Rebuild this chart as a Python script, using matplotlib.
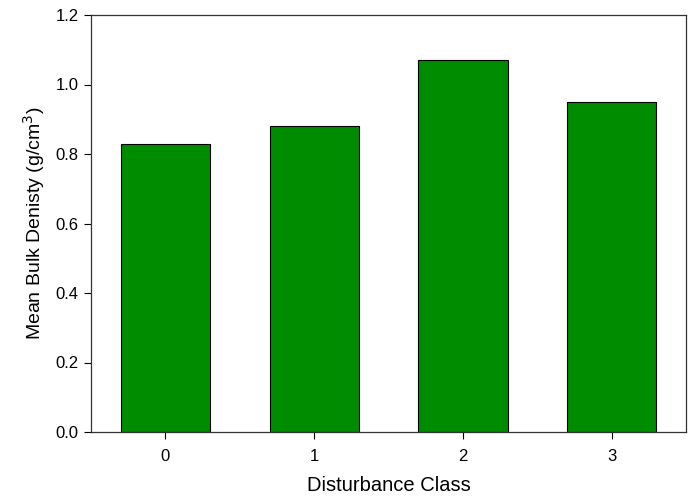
import matplotlib
matplotlib.use("Agg")
import matplotlib.pyplot as plt

# Data
classes = ["0", "1", "2", "3"]
bulk_density = [0.83, 0.88, 1.07, 0.95]

plt.rcParams['font.family'] = ['Liberation Sans', 'DejaVu Sans']

fig = plt.figure(figsize=(6.9, 5.01), dpi=100)
ax = fig.add_axes([91 / 690, 1 - 432 / 501, 595 / 690, 417 / 501])

pos = list(range(len(classes)))
ax.bar(pos, bulk_density, width=0.6, color='#008c00', edgecolor='black', linewidth=0.8)

ax.set_xlim(-0.5, 3.5)
ax.set_ylim(0, 1.2)
ax.set_xticks(pos)
ax.set_xticklabels(classes)
ax.set_yticks([0.0, 0.2, 0.4, 0.6, 0.8, 1.0, 1.2])
ax.set_yticklabels([f"{v:.1f}" for v in [0.0, 0.2, 0.4, 0.6, 0.8, 1.0, 1.2]])
ax.tick_params(axis='both', direction='out', length=5, width=0.8, labelsize=12,
               top=False, right=False, pad=7)
ax.tick_params(axis='y', pad=4)
for s in ax.spines.values():
    s.set_linewidth(0.9)
    s.set_color('#333333')

ax.set_xlabel("Disturbance Class", fontsize=14.5, labelpad=9)
ax.set_ylabel("Mean Bulk Denisty (g/cm$^3$)", fontsize=14, labelpad=6)

fig.savefig("out.png", dpi=100)
